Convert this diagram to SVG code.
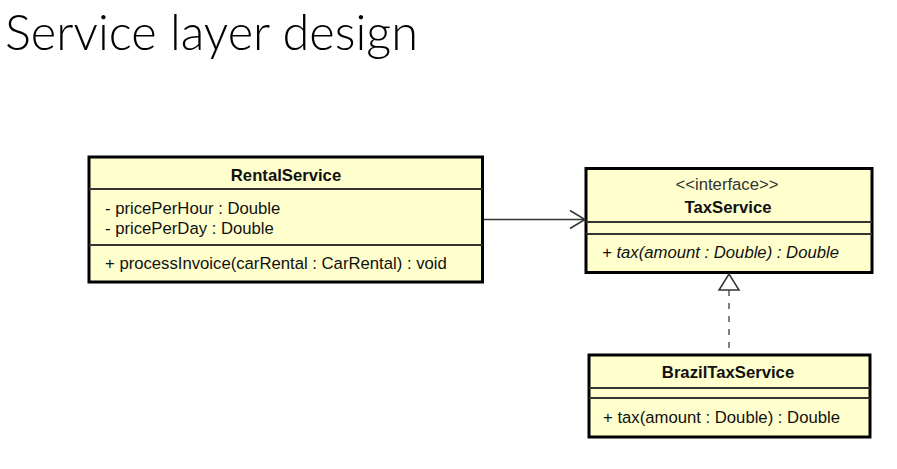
<svg xmlns="http://www.w3.org/2000/svg" width="897" height="469" viewBox="0 0 897 469">
<defs>
<style>
.title{font-family:Lato,"Liberation Sans",sans-serif;font-weight:300;font-size:50px;fill:#000}
.box{fill:#FFFFCE;stroke:#000;stroke-width:3}
.div{stroke:#333;stroke-width:1.8}
.t{font-family:"Liberation Sans",Arial,sans-serif;font-size:16.7px;fill:#111}
.b{font-weight:bold;text-anchor:middle}
.c{text-anchor:middle}
.i{font-style:italic}
.conn{fill:none;stroke:#333;stroke-width:1.5}
</style>
</defs>
<rect width="897" height="469" fill="#fff"/>
<text class="title" x="5" y="50" textLength="413" lengthAdjust="spacingAndGlyphs">Service layer design</text>

<g id="RentalService">
<rect class="box" x="89" y="157" width="393.5" height="125"/>
<line class="div" x1="89" y1="189" x2="482.5" y2="189"/>
<line class="div" x1="89" y1="245" x2="482.5" y2="245"/>
<text class="t b" x="286" y="181">RentalService</text>
<text class="t" x="105" y="214">- pricePerHour : Double</text>
<text class="t" x="105" y="234">- pricePerDay : Double</text>
<text class="t" x="105" y="269">+ processInvoice(carRental : CarRental) : void</text>
</g>

<g id="TaxService">
<rect class="box" x="586" y="168.5" width="286" height="104"/>
<line class="div" x1="586" y1="222" x2="872" y2="222"/>
<line class="div" x1="586" y1="234" x2="872" y2="234"/>
<text class="t c" x="727" y="190" style="fill:#333">&lt;&lt;interface&gt;&gt;</text>
<text class="t b" x="728" y="213">TaxService</text>
<text class="t i" x="602" y="258">+ tax(amount : Double) : Double</text>
</g>

<g id="BrazilTaxService">
<rect class="box" x="589" y="355" width="281" height="82"/>
<line class="div" x1="589" y1="388" x2="870" y2="388"/>
<line class="div" x1="589" y1="398" x2="870" y2="398"/>
<text class="t b" x="728" y="378">BrazilTaxService</text>
<text class="t" x="603" y="423">+ tax(amount : Double) : Double</text>
</g>

<g id="connectors">
<line class="conn" x1="484" y1="219.5" x2="585" y2="219.5"/>
<polyline class="conn" points="570,210.5 585,219.5 570,228.5"/>
<line class="conn" x1="729" y1="290" x2="729" y2="353" stroke-dasharray="6,7" style="stroke:#555"/>
<polygon points="729,274 719,290 739,290" fill="#fff" stroke="#333" stroke-width="1.5"/>
</g>
</svg>
